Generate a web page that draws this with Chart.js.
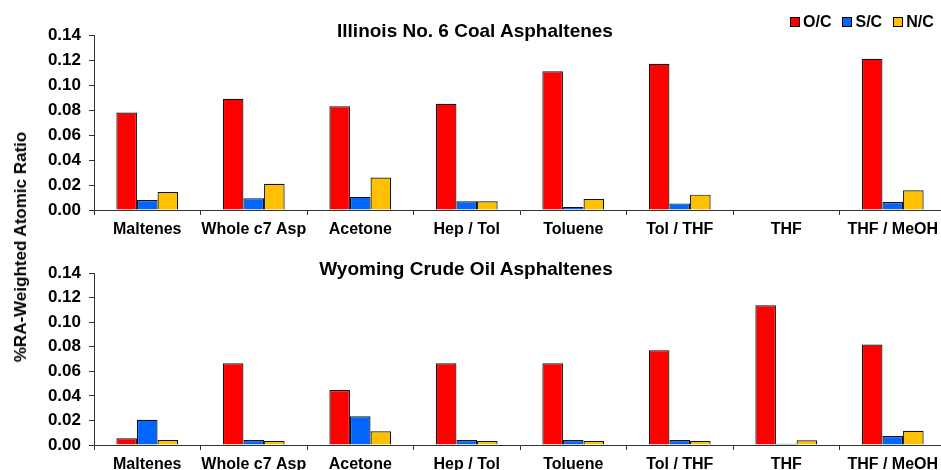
<!DOCTYPE html>
<html lang="en">
<head>
    <meta charset="UTF-8">
    <title>Asphaltenes Atomic Ratios</title>
    <script src="https://cdn.jsdelivr.net/npm/chart.js"></script>
    <style>
        body {
            margin: 0;
            width: 941px;
            height: 470px;
            overflow: hidden;
            background: #fff;
            font-family: "Liberation Sans", Arial, sans-serif;
            position: relative;
        }

        .panel {
            position: absolute;
            left: 0;
        }

        .title {
            position: absolute;
            width: 600px;
            text-align: center;
            font-weight: bold;
            font-size: 19px;
            line-height: 19px;
            color: #000;
            white-space: nowrap;
        }

        #yTitle {
            position: absolute;
            left: 21px;
            top: 247px;
            transform: translate(-50%, -50%) rotate(-90deg);
            font-weight: bold;
            font-size: 17px;
            white-space: nowrap;
            color: #000;
        }

        #legend {
            position: absolute;
            left: 790px;
            top: 14px;
            display: flex;
            font-weight: bold;
            font-size: 16px;
            line-height: 16px;
        }

        .item {
            display: flex;
            align-items: center;
            margin-right: 11px;
        }

        .box {
            width: 8px;
            height: 8px;
            border: 1px solid #000;
            margin-right: 3px;
        }
    </style>
</head>
<body>

    <div class="panel" style="top:0"><canvas id="coalChart" width="960" height="240"></canvas></div>
    <div class="panel" style="top:240px"><canvas id="oilChart" width="960" height="240"></canvas></div>

    <div class="title" style="left:175px; top:21px">Illinois No. 6 Coal Asphaltenes</div>
    <div class="title" style="left:166px; top:259px">Wyoming Crude Oil Asphaltenes</div>
    <div id="yTitle">%RA-Weighted Atomic Ratio</div>
    <div id="legend"></div>

    <script>
        // 분획 이름
        const categories = ['Maltenes', 'Whole c7 Asp', 'Acetone', 'Hep / Tol', 'Toluene', 'Tol / THF', 'THF', 'THF / MeOH'];
        const seriesNames = ['O/C', 'S/C', 'N/C'];
        const seriesColors = ['#ff0000', '#0066ff', '#ffc000'];

        // Illinois No. 6 coal
        const coalOC = [0.078, 0.089, 0.083, 0.085, 0.111, 0.117, null, 0.121];
        const coalSC = [0.008, 0.0095, 0.0105, 0.007, 0.0025, 0.0053, null, 0.0064];
        const coalNC = [0.0145, 0.021, 0.026, 0.007, 0.0088, 0.0123, null, 0.0158];

        // Wyoming crude oil
        const oilOC = [0.0054, 0.0666, 0.0447, 0.0666, 0.0666, 0.0772, 0.1137, 0.0818];
        const oilSC = [0.0205, 0.004, 0.0233, 0.004, 0.004, 0.004, 0.001, 0.0073];
        const oilNC = [0.004, 0.0032, 0.0111, 0.0032, 0.0032, 0.0032, 0.0038, 0.0116];

        const yMin = 0;
        const yMax = 0.14;
        const yStep = 0.02;

        // 범례
        const legend = document.getElementById('legend');
        seriesNames.forEach((name, i) => {
            const item = document.createElement('div');
            item.className = 'item';
            const box = document.createElement('div');
            box.className = 'box';
            box.style.background = seriesColors[i];
            const label = document.createElement('span');
            label.textContent = name;
            item.appendChild(box);
            item.appendChild(label);
            legend.appendChild(item);
        });

        function makeChart(canvasId, values, padTop, xHeight) {
            const ctx = document.getElementById(canvasId).getContext('2d');
            return new Chart(ctx, {
                type: 'bar',
                data: {
                    labels: categories,
                    datasets: seriesNames.map((name, i) => ({
                        label: name,
                        data: values[i],
                        backgroundColor: seriesColors[i],
                        borderColor: '#111',
                        borderWidth: 1.2,
                        categoryPercentage: 0.58,
                        barPercentage: 1.0
                    }))
                },
                options: {
                    responsive: false,
                    animation: false,
                    layout: {
                        padding: { top: padTop, right: 14, left: 0, bottom: 0 }
                    },
                    plugins: {
                        legend: { display: false },
                        title: { display: false },
                        tooltip: { enabled: false }
                    },
                    scales: {
                        x: {
                            grid: {
                                display: true,
                                drawOnChartArea: false,
                                drawTicks: true,
                                tickLength: 5,
                                color: '#333',
                                offset: true
                            },
                            border: { display: true, color: '#333', width: 1 },
                            ticks: {
                                color: '#000',
                                padding: 5,
                                maxRotation: 0,
                                autoSkip: false,
                                font: { family: 'Liberation Sans, Arial', size: 16, weight: 'bold' }
                            },
                            afterFit: function(scale) {
                                scale.height = xHeight;
                            }
                        },
                        y: {
                            min: yMin,
                            max: yMax,
                            grid: {
                                display: true,
                                drawOnChartArea: false,
                                drawTicks: true,
                                tickLength: 5,
                                color: '#333'
                            },
                            border: { display: true, color: '#333', width: 1 },
                            ticks: {
                                stepSize: yStep,
                                color: '#000',
                                padding: 8,
                                font: { family: 'Liberation Sans, Arial', size: 17, weight: 'bold' },
                                callback: function(v) {
                                    return v.toFixed(2);
                                }
                            },
                            afterFit: function(scale) {
                                scale.width = 94;
                            }
                        }
                    }
                }
            });
        }

        makeChart('coalChart', [coalOC, coalSC, coalNC], 35, 30);
        makeChart('oilChart', [oilOC, oilSC, oilNC], 33, 35);
    </script>

</body>
</html>
